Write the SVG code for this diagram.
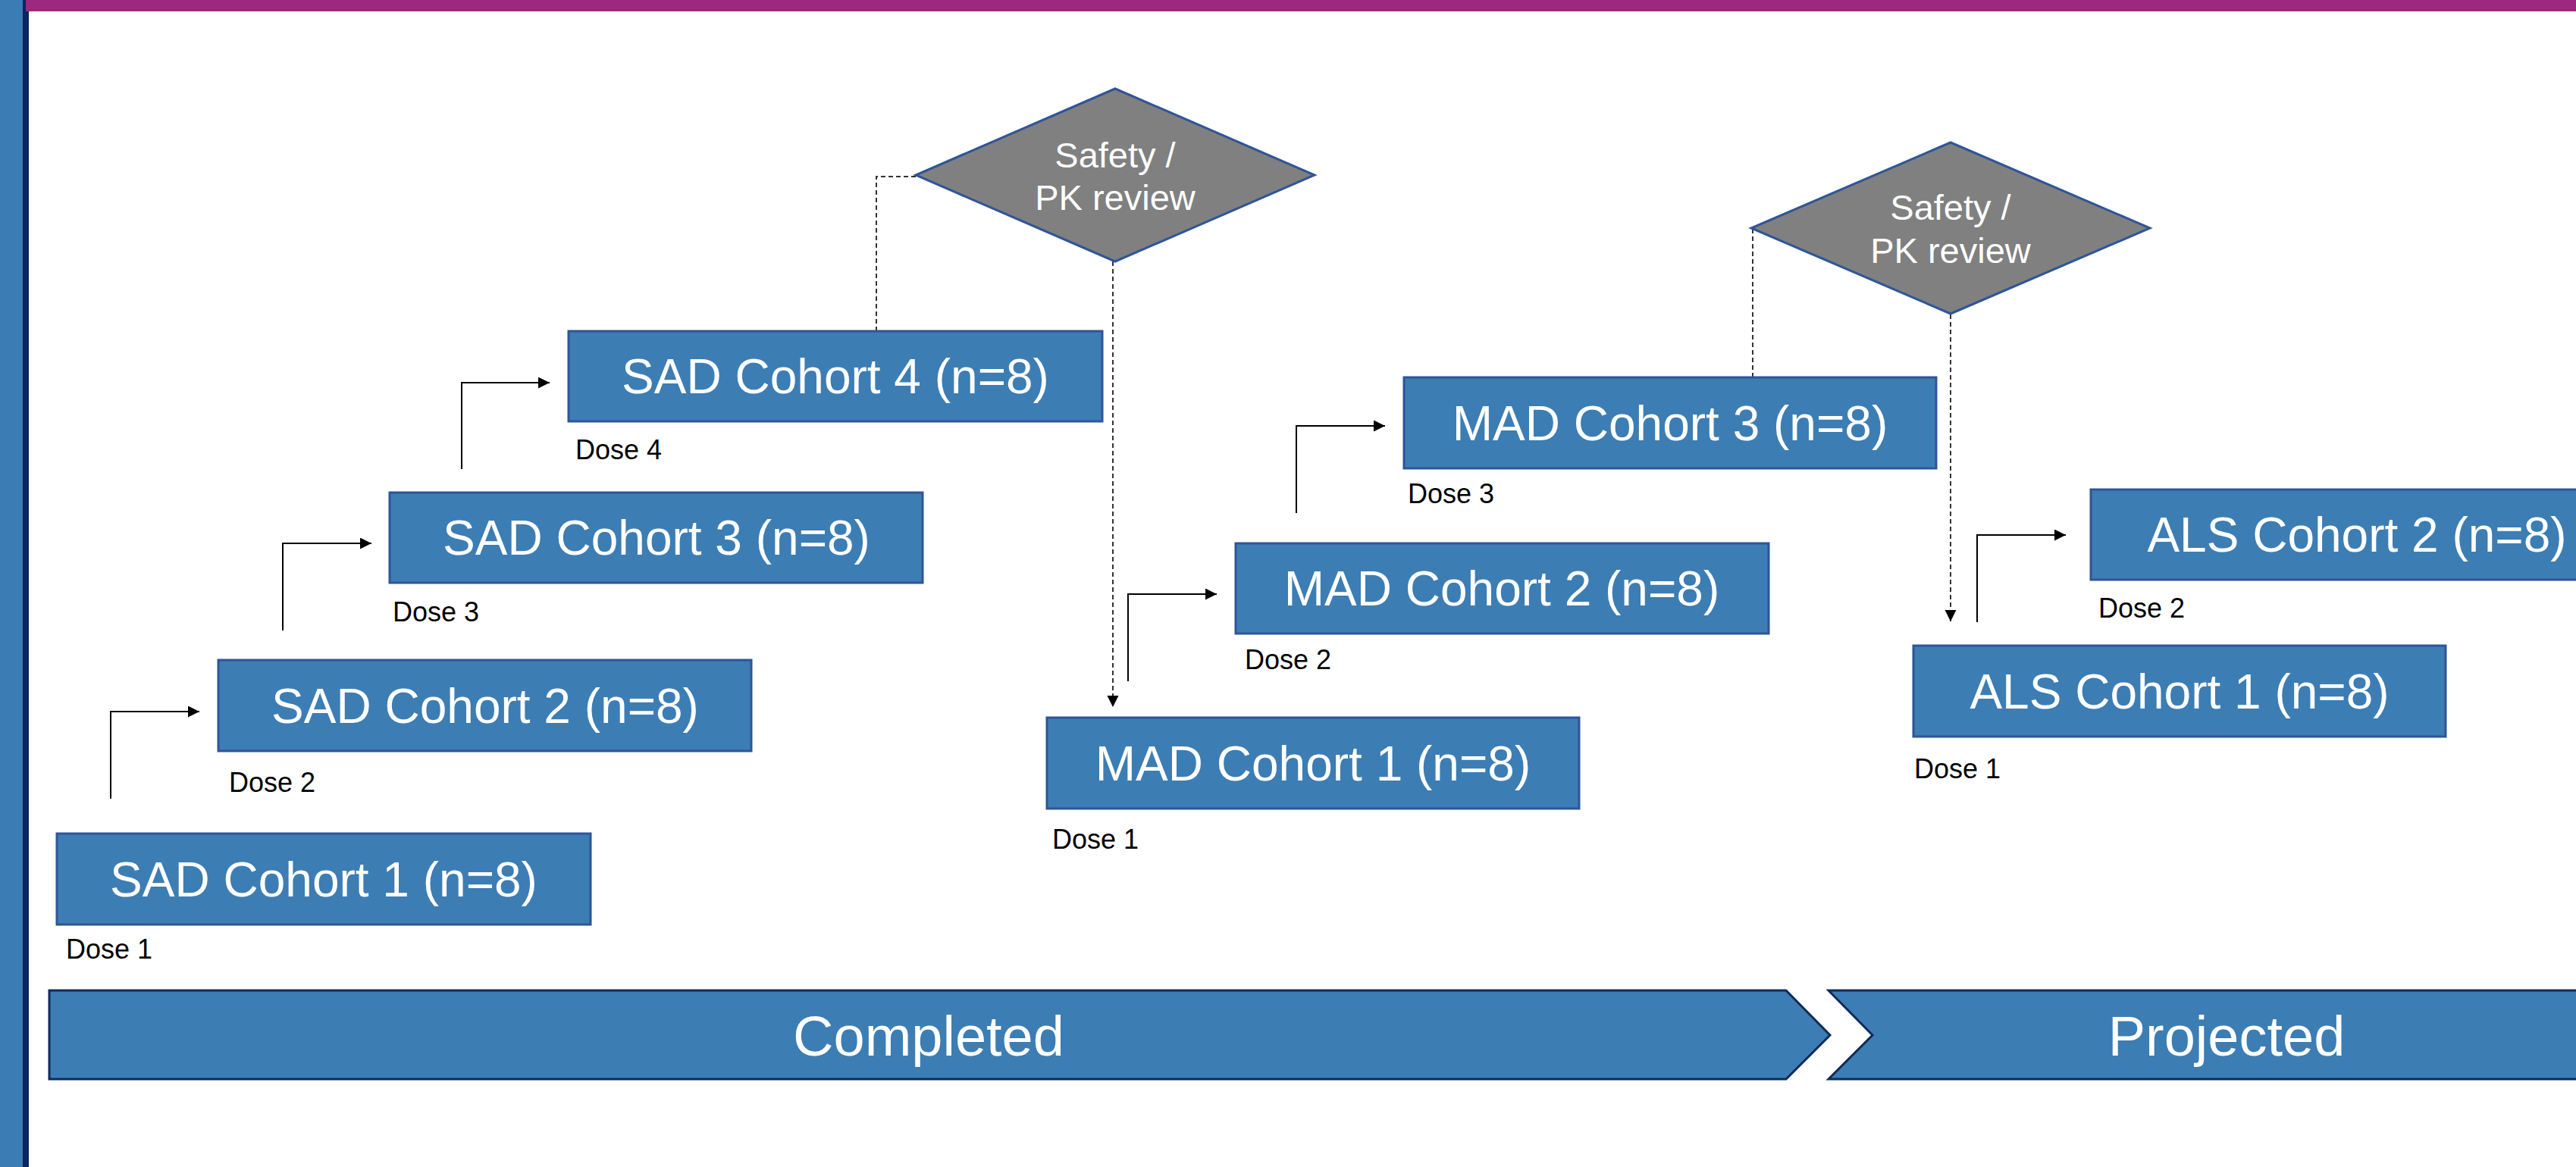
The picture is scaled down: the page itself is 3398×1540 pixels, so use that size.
<svg xmlns="http://www.w3.org/2000/svg" width="3398" height="1540" viewBox="0 0 3398 1540">
<style>
text{font-family:"Liberation Sans",Arial,sans-serif}
.box{fill:#3C7DB4;stroke:#2F5597;stroke-width:3}
.lbl{fill:#fff;font-size:64px;text-anchor:middle}
.dose{fill:#000;font-size:36px}
.dia{fill:#808080;stroke:#2F5597;stroke-width:3}
.dtxt{fill:#fff;font-size:47px;text-anchor:middle}
.bar{fill:#3C7DB4;stroke:#0E2A5C;stroke-width:3}
.btxt{fill:#fff;font-size:74px;text-anchor:middle}
.solid{fill:none;stroke:#000;stroke-width:2}
.dash{fill:none;stroke:#333;stroke-width:2;stroke-dasharray:6 4}
</style>
<defs>
<marker id="ah" markerUnits="userSpaceOnUse" markerWidth="16" markerHeight="16" refX="15" refY="7.5" orient="auto">
<path d="M0,0 L15,7.5 L0,15 z" fill="#000"/>
</marker>
</defs>
<rect width="3398" height="1540" fill="#fff"/>
<g id="frame">
<rect x="0" y="0" width="30" height="1540" fill="#3A7CB3"/>
<rect x="30" y="0" width="8" height="1540" fill="#0B2561"/>
<rect x="34" y="0" width="3364" height="15" fill="#9B297D"/>
</g>
<g id="connectors">
<path class="solid" d="M146,1054 V939 H263" marker-end="url(#ah)"/>
<path class="solid" d="M373,832 V717 H490" marker-end="url(#ah)"/>
<path class="solid" d="M609,619 V505 H725" marker-end="url(#ah)"/>
<path class="solid" d="M1488,899 V784 H1605" marker-end="url(#ah)"/>
<path class="solid" d="M1710,677 V562 H1827" marker-end="url(#ah)"/>
<path class="solid" d="M2608,821 V706 H2725" marker-end="url(#ah)"/>
<path class="dash" d="M1156,437 V233 H1208"/>
<path class="dash" d="M1468,345 V933" marker-end="url(#ah)"/>
<path class="dash" d="M2312,498 V301"/>
<path class="dash" d="M2573,415 V820" marker-end="url(#ah)"/>
</g>
<g id="sad1"><rect class="box" x="75" y="1100" width="704" height="120"/><text class="lbl" x="427" y="1183">SAD Cohort 1 (n=8)</text><text class="dose" x="87" y="1265">Dose 1</text></g>
<g id="sad2"><rect class="box" x="288" y="871" width="703" height="120"/><text class="lbl" x="640" y="954">SAD Cohort 2 (n=8)</text><text class="dose" x="302" y="1045">Dose 2</text></g>
<g id="sad3"><rect class="box" x="514" y="650" width="703" height="119"/><text class="lbl" x="866" y="732">SAD Cohort 3 (n=8)</text><text class="dose" x="518" y="820">Dose 3</text></g>
<g id="sad4"><rect class="box" x="750" y="437" width="704" height="119"/><text class="lbl" x="1102" y="519">SAD Cohort 4 (n=8)</text><text class="dose" x="759" y="606">Dose 4</text></g>
<g id="mad1"><rect class="box" x="1381" y="947" width="702" height="120"/><text class="lbl" x="1732" y="1030">MAD Cohort 1 (n=8)</text><text class="dose" x="1388" y="1120">Dose 1</text></g>
<g id="mad2"><rect class="box" x="1630" y="717" width="703" height="119"/><text class="lbl" x="1981" y="799">MAD Cohort 2 (n=8)</text><text class="dose" x="1642" y="883">Dose 2</text></g>
<g id="mad3"><rect class="box" x="1852" y="498" width="702" height="120"/><text class="lbl" x="2203" y="581">MAD Cohort 3 (n=8)</text><text class="dose" x="1857" y="664">Dose 3</text></g>
<g id="als1"><rect class="box" x="2524" y="852" width="702" height="120"/><text class="lbl" x="2875" y="935">ALS Cohort 1 (n=8)</text><text class="dose" x="2525" y="1027">Dose 1</text></g>
<g id="als2"><rect class="box" x="2758" y="646" width="702" height="119"/><text class="lbl" x="3109" y="728">ALS Cohort 2 (n=8)</text><text class="dose" x="2768" y="815">Dose 2</text></g>
<g id="review1"><polygon class="dia" points="1471,117 1734,231 1471,345 1208,231"/><text class="dtxt" x="1471" y="221">Safety /</text><text class="dtxt" x="1471" y="277">PK review</text></g>
<g id="review2"><polygon class="dia" points="2573,188 2836,301 2573,414 2310,301"/><text class="dtxt" x="2573" y="290">Safety /</text><text class="dtxt" x="2573" y="347">PK review</text></g>
<g id="completed"><polygon class="bar" points="65,1307 2356,1307 2414,1366 2356,1424 65,1424"/><text class="btxt" x="1225" y="1393">Completed</text></g>
<g id="projected"><polygon class="bar" points="2412,1307 3420,1307 3420,1424 2412,1424 2470,1366"/><text class="btxt" x="2937" y="1393">Projected</text></g>
</svg>
